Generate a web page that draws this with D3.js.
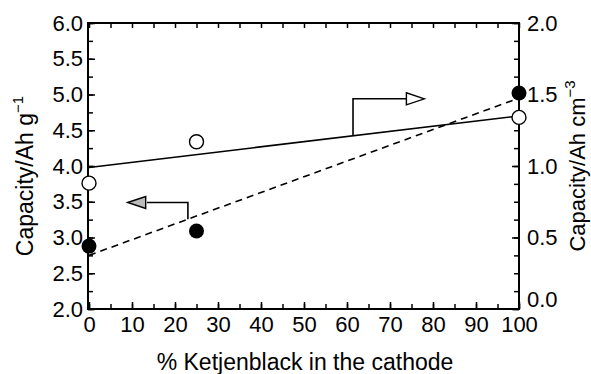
<!DOCTYPE html>
<html lang="en">
<head>
    <meta charset="UTF-8">
    <title>Capacity vs Ketjenblack</title>
    <script src="https://d3js.org/d3.v7.min.js"></script>
    <style>
        body {
            margin: 0;
            padding: 0;
            background-color: #fff;
        }

        text {
            font-family: 'Liberation Sans', Arial, sans-serif;
            fill: #000;
        }
    </style>
</head>
<body>
    <div id="chart"></div>

    <script>
        // data
        const ketjenPct = [0, 25, 100];
        const gravimetric = [2.88, 3.09, 5.02];      // filled circles, left axis (Ah g-1)
        const volumetric = [0.88, 1.17, 1.34];       // open circles, right axis (Ah cm-3)
        const gravFit = [[0, 2.75], [100, 4.95]];    // dashed line, left axis
        const volFit = [[0, 0.99], [100, 1.35]];     // solid line, right axis
        const xTicks = [0, 10, 20, 30, 40, 50, 60, 70, 80, 90, 100];
        const leftTicks = [2.0, 2.5, 3.0, 3.5, 4.0, 4.5, 5.0, 5.5, 6.0];
        const rightTicks = [0.0, 0.5, 1.0, 1.5, 2.0];

        const width = 591, height = 374;
        const plot = { left: 88, right: 519, top: 23, bottom: 309 };

        const svg = d3.select("#chart").append("svg")
            .attr("width", width)
            .attr("height", height);

        const x = d3.scaleLinear().domain([0, 100]).range([89, plot.right]);
        const yL = d3.scaleLinear().domain([2, 6]).range([plot.bottom, plot.top]);
        const yR = d3.scaleLinear().domain([0, 2]).range([plot.bottom, plot.top]);

        // minor tick positions
        const xMinor = d3.range(0, 101, 5);
        const yMinor = d3.range(2, 6.01, 0.25);

        function styleAxis(g) {
            g.select(".domain").remove();
            g.selectAll("line").attr("stroke", "#000").attr("stroke-width", 1.5);
            g.selectAll("text").attr("font-size", 22).attr("fill", "#000");
        }

        // frame
        svg.append("rect")
            .attr("x", plot.left)
            .attr("y", plot.top)
            .attr("width", plot.right - plot.left)
            .attr("height", plot.bottom - plot.top)
            .attr("fill", "none")
            .attr("stroke", "#000")
            .attr("stroke-width", 2);

        // bottom axis (ticks point inward)
        svg.append("g")
            .attr("transform", "translate(0," + plot.bottom + ")")
            .call(d3.axisBottom(x).tickValues(xMinor).tickSize(-5).tickFormat(""))
            .call(styleAxis);
        svg.append("g")
            .attr("transform", "translate(0," + plot.bottom + ")")
            .call(d3.axisBottom(x).tickValues(xTicks).tickSize(-7).tickPadding(7).tickFormat(d3.format("d")))
            .call(styleAxis);

        // top axis
        svg.append("g")
            .attr("transform", "translate(0," + plot.top + ")")
            .call(d3.axisTop(x).tickValues(xMinor).tickSize(-5).tickFormat(""))
            .call(styleAxis);

        // left axis
        svg.append("g")
            .attr("transform", "translate(" + plot.left + ",0)")
            .call(d3.axisLeft(yL).tickValues(yMinor).tickSize(-5).tickFormat(""))
            .call(styleAxis);
        svg.append("g")
            .attr("transform", "translate(" + plot.left + ",0)")
            .call(d3.axisLeft(yL).tickValues(leftTicks).tickSize(-7).tickPadding(5).tickFormat(d3.format(".1f")))
            .call(styleAxis);

        // right axis
        svg.append("g")
            .attr("transform", "translate(" + plot.right + ",0)")
            .call(d3.axisRight(yR).tickValues(d3.range(0, 2.01, 0.125)).tickSize(-5).tickFormat(""))
            .call(styleAxis);
        svg.append("g")
            .attr("transform", "translate(" + plot.right + ",0)")
            .call(d3.axisRight(yR).tickValues(rightTicks).tickSize(-7).tickPadding(8).tickFormat(d3.format(".1f")))
            .call(styleAxis)
            .selectAll(".tick text")
            .filter(d => d === 0)
            .attr("y", -10); // lifted clear of the "100" label, as in the figure

        // fit lines
        svg.append("path")
            .datum(gravFit)
            .attr("fill", "none")
            .attr("stroke", "#000")
            .attr("stroke-width", 1.6)
            .attr("stroke-dasharray", "7,5")
            .attr("d", d3.line().x(d => x(d[0])).y(d => yL(d[1])));

        svg.append("path")
            .datum(volFit)
            .attr("fill", "none")
            .attr("stroke", "#000")
            .attr("stroke-width", 1.6)
            .attr("d", d3.line().x(d => x(d[0])).y(d => yR(d[1])));

        // points
        svg.selectAll(".filled")
            .data(ketjenPct)
            .enter()
            .append("circle")
            .attr("class", "filled")
            .attr("cx", d => x(d))
            .attr("cy", (d, i) => yL(gravimetric[i]))
            .attr("r", 7.5)
            .attr("fill", "#000");

        svg.selectAll(".open")
            .data(ketjenPct)
            .enter()
            .append("circle")
            .attr("class", "open")
            .attr("cx", d => x(d))
            .attr("cy", (d, i) => yR(volumetric[i]))
            .attr("r", 7)
            .attr("fill", "#fff")
            .attr("stroke", "#000")
            .attr("stroke-width", 1.4);

        // arrows pointing to the axis each line belongs to
        function arrow(pts, tip, dir, fill) {
            svg.append("path")
                .attr("d", d3.line()(pts))
                .attr("fill", "none")
                .attr("stroke", "#000")
                .attr("stroke-width", 1.6);
            const [tx, ty] = tip;
            const len = 18 * dir, half = 6;
            svg.append("path")
                .attr("d", "M" + tx + "," + ty + "L" + (tx - len) + "," + (ty - half) +
                    "L" + (tx - len) + "," + (ty + half) + "Z")
                .attr("fill", fill)
                .attr("stroke", "#000")
                .attr("stroke-width", 1.4);
        }

        // solid line -> right axis
        const rx = 61.4;
        const rStart = volFit[0][1] + (volFit[1][1] - volFit[0][1]) * rx / 100;
        arrow([[x(rx), yR(rStart)], [x(rx), yR(1.47)], [x(74), yR(1.47)]],
            [x(78), yR(1.47)], 1, "#fff");

        // dashed line -> left axis
        const lx = 23;
        const lStart = gravFit[0][1] + (gravFit[1][1] - gravFit[0][1]) * lx / 100;
        arrow([[x(lx), yL(lStart)], [x(lx), yL(3.49)], [x(13.5), yL(3.49)]],
            [x(9), yL(3.49)], -1, "#bbb");

        // axis titles
        const leftTitle = svg.append("text")
            .attr("transform", "translate(33,176) rotate(-90)")
            .attr("text-anchor", "middle")
            .attr("font-size", 23);
        leftTitle.append("tspan").text("Capacity/Ah g");
        leftTitle.append("tspan").attr("dy", -10).attr("font-size", 15).text("\u22121");

        const rightTitle = svg.append("text")
            .attr("transform", "translate(585,166) rotate(-90)")
            .attr("text-anchor", "middle")
            .attr("font-size", 22);
        rightTitle.append("tspan").text("Capacity/Ah cm");
        rightTitle.append("tspan").attr("dy", -10).attr("font-size", 15).text("\u22123");

        svg.append("text")
            .attr("x", 305)
            .attr("y", 370)
            .attr("text-anchor", "middle")
            .attr("font-size", 23)
            .text("% Ketjenblack in the cathode");
    </script>
</body>
</html>
